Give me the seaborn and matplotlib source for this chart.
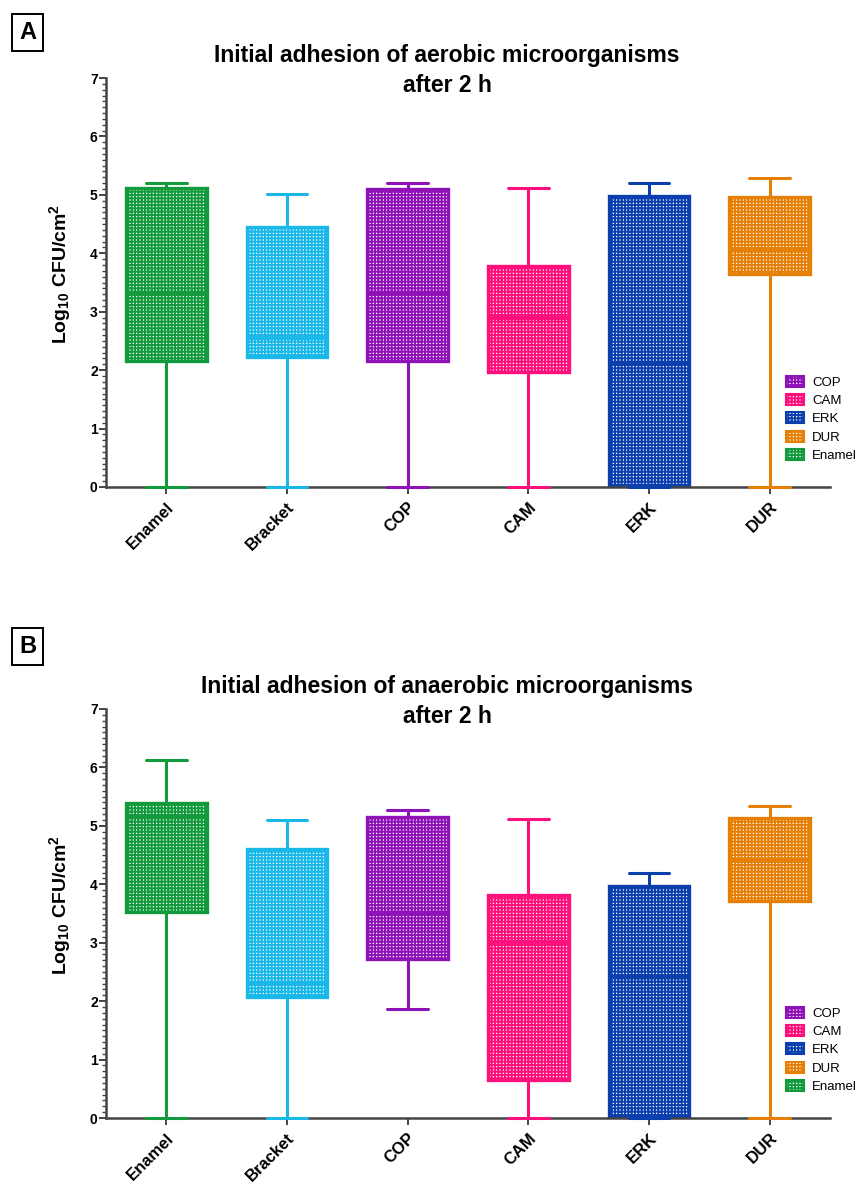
import numpy as np
import pandas as pd
import matplotlib
matplotlib.use("Agg")
import matplotlib.pyplot as plt
from matplotlib.patches import Patch
from matplotlib.ticker import MultipleLocator
import seaborn as sns

# groups on the x axis
groups = ["Enamel", "Bracket", "COP", "CAM", "ERK", "DUR"]
legend_groups = ["COP", "CAM", "ERK", "DUR", "Enamel"]

# five-number summaries (min, Q1, median, Q3, max)
aer_min = [0.00, 0.00, 0.00, 0.00, 0.00, 0.00]
aer_q1 = [2.15, 2.22, 2.15, 1.97, 0.03, 3.65]
aer_med = [3.32, 2.55, 3.32, 2.90, 2.13, 4.08]
aer_q3 = [5.11, 4.45, 5.10, 3.78, 4.98, 4.97]
aer_max = [5.21, 5.01, 5.20, 5.11, 5.20, 5.28]

ana_min = [0.00, 0.00, 1.87, 0.00, 0.00, 0.00]
ana_q1 = [3.52, 2.07, 2.72, 0.65, 0.04, 3.72]
ana_med = [5.16, 2.30, 3.50, 3.02, 2.41, 4.40]
ana_q3 = [5.39, 4.61, 5.16, 3.82, 3.97, 5.14]
ana_max = [6.12, 5.10, 5.27, 5.12, 4.19, 5.34]

colors = ["#139a3c", "#1ab8e8", "#8f12b8", "#ff0f7b", "#0b3fae", "#e57f06"]
palette = dict(zip(groups, colors))


def to_long(mins, q1s, meds, q3s, maxs):
    """五数要約を縦長のデータフレームにする（5点なら四分位がそのまま再現される）"""
    rows = []
    for g, a, b, c, d, e in zip(groups, mins, q1s, meds, q3s, maxs):
        for v in (a, b, c, d, e):
            rows.append({"group": g, "value": v})
    return pd.DataFrame(rows)


sns.set_style("white")
plt.rcParams["font.family"] = ["Liberation Sans", "DejaVu Sans"]
plt.rcParams["text.color"] = "black"
plt.rcParams["axes.labelcolor"] = "black"
plt.rcParams["xtick.color"] = "black"
plt.rcParams["ytick.color"] = "black"
plt.rcParams["hatch.linewidth"] = 1.4
plt.rcParams["mathtext.fontset"] = "custom"
plt.rcParams["mathtext.rm"] = "Liberation Sans:bold"
plt.rcParams["mathtext.it"] = "Liberation Sans:bold"
plt.rcParams["mathtext.bf"] = "Liberation Sans:bold"

W, H = 858, 1185
fig = plt.figure(figsize=(W / 100, H / 100), dpi=100)


def draw_panel(df, top_px, bottom_px, title, title_top_px, letter, letter_cy):
    ax = fig.add_axes([106 / W, 1 - bottom_px / H, 724 / W, (bottom_px - top_px) / H])
    sns.boxplot(data=df, x="group", y="value", hue="group", order=groups,
                hue_order=groups, palette=palette, width=0.67, whis=(0, 100),
                linewidth=2, legend=False, ax=ax)

    for cont, g in zip(ax.containers, groups):
        c = palette[g]
        for b in cont.boxes:
            b.set_facecolor("white")
            b.set_edgecolor(c)
            b.set_hatch("+++++")
            b.set_linewidth(2.4)
        for ln in list(cont.whiskers) + list(cont.caps):
            ln.set_color(c)
            ln.set_linewidth(2.2)
            ln.set_zorder(4)
            ln.set_clip_on(False)
        for ln in cont.medians:
            ln.set_color(c)
            ln.set_linewidth(2.8)
            ln.set_zorder(4)

    ax.set_ylim(0, 7)
    ax.set_xlim(-0.5, 5.5)
    ax.yaxis.set_major_locator(MultipleLocator(1))
    ax.yaxis.set_minor_locator(MultipleLocator(0.1))
    for side in ("top", "right"):
        ax.spines[side].set_visible(False)
    for side in ("left", "bottom"):
        ax.spines[side].set_color("#444444")
        ax.spines[side].set_linewidth(1.8)
    ax.tick_params(axis="y", which="major", left=True, length=5, width=1.4,
                   color="#444444", labelsize=10, pad=1)
    ax.tick_params(axis="y", which="minor", left=True, length=3, width=1.0,
                   color="#444444")
    ax.tick_params(axis="x", bottom=True, length=5, width=1.4, color="#444444",
                   labelsize=12, pad=4)
    for t in ax.get_yticklabels():
        t.set_fontweight("bold")
    ax.set_xticks(range(len(groups)))
    ax.set_xticklabels(groups, rotation=45, ha="right", rotation_mode="anchor",
                       fontweight="bold")
    ax.set_xlabel("")
    ax.set_ylabel(r"Log$_{10}$ CFU/cm$^{2}$", fontsize=14, fontweight="bold")
    ax.yaxis.set_label_coords(-0.046, 0.52)

    handles = [Patch(facecolor="white", edgecolor=palette[g], hatch="+++++",
                     linewidth=1.5) for g in legend_groups]
    ax.legend(handles, legend_groups, loc="upper left", bbox_to_anchor=(0.939, 0.272),
              frameon=False, fontsize=9.5, borderpad=0, borderaxespad=0,
              handlelength=1.4, handleheight=0.9, handletextpad=0.6,
              labelspacing=0.4)

    fig.text(447 / W, 1 - title_top_px / H, title, ha="center", va="top",
             fontsize=16.5, fontweight="bold", linespacing=1.38)
    fig.text(27.5 / W, 1 - letter_cy / H, letter, ha="center", va="center",
             fontsize=17, fontweight="bold",
             bbox=dict(boxstyle="square,pad=0.3", facecolor="white",
                       edgecolor="black", linewidth=1.4))
    return ax


aer = to_long(aer_min, aer_q1, aer_med, aer_q3, aer_max)
ana = to_long(ana_min, ana_q1, ana_med, ana_q3, ana_max)

draw_panel(aer, 78, 487, "Initial adhesion of aerobic microorganisms\nafter 2 h",
           44, "A", 32.5)
draw_panel(ana, 709, 1118, "Initial adhesion of anaerobic microorganisms\nafter 2 h",
           675, "B", 646.5)

fig.savefig("out.png", dpi=100, facecolor="white")
